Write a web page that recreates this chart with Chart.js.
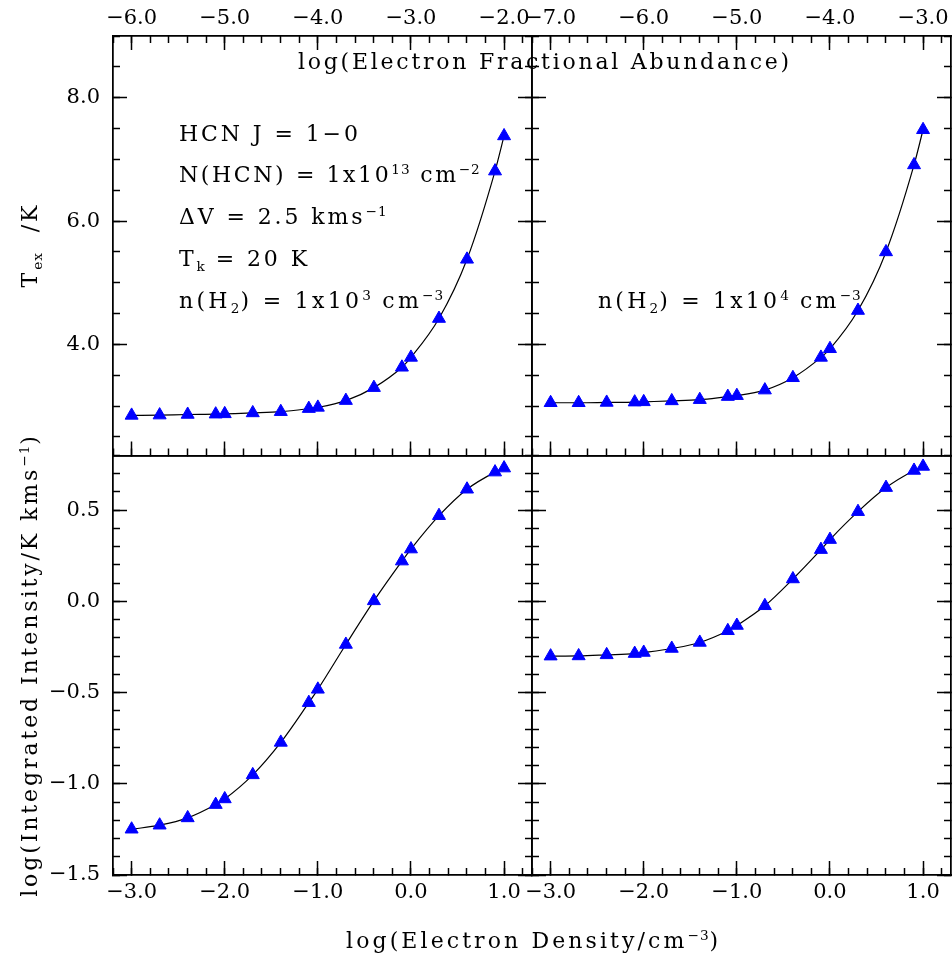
<!DOCTYPE html>
<html>
<head>
<meta charset="utf-8">
<script src="https://cdn.jsdelivr.net/npm/chart.js@4.4.1/dist/chart.umd.min.js"></script>
<style>
  html, body { margin: 0; padding: 0; background: #fff; }
  #wrap { position: relative; width: 952px; height: 959px; overflow: hidden; font-family: 'DejaVu Serif', serif; color: #000; }
  #wrap canvas { position: absolute; left: 0; top: 0; }
  .lbl { position: absolute; font-size: 22px; line-height: 1; white-space: nowrap; letter-spacing: 2.9px; }
  .lbl sup { font-size: 0.62em; vertical-align: 0.6em; line-height: 0; letter-spacing: 1px; }
  .lbl sub { font-size: 0.62em; vertical-align: -0.35em; line-height: 0; letter-spacing: 1px; }
  .rot { transform: translate(-50%, -50%) rotate(-90deg); }
</style>
</head>
<body>
<div id="wrap">
  <canvas id="tl" width="952" height="959"></canvas>
  <canvas id="tr" width="952" height="959"></canvas>
  <canvas id="bl" width="952" height="959"></canvas>
  <canvas id="br" width="952" height="959"></canvas>

  <div class="lbl" style="left:298px;top:51px;letter-spacing:2.75px">log(Electron Fractional Abundance)</div>

  <div class="lbl" style="left:179px;top:123px">HCN J = 1&minus;0</div>
  <div class="lbl" style="left:179px;top:164px;letter-spacing:2.6px">N(HCN) = 1x10<sup>13</sup> cm<sup>&minus;2</sup></div>
  <div class="lbl" style="left:179px;top:206px">&Delta;V = 2.5 kms<sup>&minus;1</sup></div>
  <div class="lbl" style="left:179px;top:248px">T<sub>k</sub> = 20 K</div>
  <div class="lbl" style="left:179px;top:290px;letter-spacing:3.3px">n(H<sub>2</sub>) = 1x10<sup>3</sup> cm<sup>&minus;3</sup></div>
  <div class="lbl" style="left:598px;top:290px;letter-spacing:3.2px">n(H<sub>2</sub>) = 1x10<sup>4</sup> cm<sup>&minus;3</sup></div>

  <div class="lbl rot" style="left:30px;top:245px">T<sub>ex</sub>&nbsp;&nbsp;/K</div>
  <div class="lbl rot" style="left:30px;top:665px">log(Integrated Intensity/K kms<sup>&minus;1</sup>)</div>
  <div class="lbl" style="left:346px;top:930px;letter-spacing:3.1px">log(Electron Density/cm<sup>&minus;3</sup>)</div>
</div>
<script>
// log10 of electron density (cm^-3): 1, 2, 4, 8 x 10^-3 ... 10
var logNe = [-3.0, -2.699, -2.398, -2.097, -2.0, -1.699, -1.398, -1.097, -1.0,
             -0.699, -0.398, -0.097, 0.0, 0.301, 0.602, 0.903, 1.0];

// excitation temperature (K), n(H2) = 1e3 and 1e4
var texN3 = [2.85, 2.855, 2.865, 2.87, 2.875, 2.89, 2.91, 2.96, 2.98,
             3.09, 3.30, 3.63, 3.79, 4.42, 5.38, 6.81, 7.38];
var texN4 = [3.055, 3.055, 3.06, 3.065, 3.07, 3.085, 3.105, 3.155, 3.17,
             3.26, 3.46, 3.79, 3.93, 4.55, 5.50, 6.91, 7.48];

// log integrated intensity (K km/s), n(H2) = 1e3 and 1e4
var intN3 = [-1.249, -1.227, -1.187, -1.114, -1.083, -0.951, -0.773, -0.555, -0.482,
             -0.236, 0.003, 0.221, 0.287, 0.470, 0.615, 0.709, 0.731];
var intN4 = [-0.300, -0.299, -0.293, -0.286, -0.280, -0.258, -0.225, -0.161, -0.132,
             -0.024, 0.123, 0.284, 0.339, 0.492, 0.624, 0.718, 0.740];

var xRange = [-3.2, 1.3];
var texRange = [2.2, 9.0];
var intRange = [-1.5, 0.8];

// panel edges in page pixels
var colX = [113, 532, 951];
var rowY = [36, 455.5, 875];
var W = 952, H = 959;

var tickFont = { family: 'DejaVu Serif', size: 21 };

function fmt(v) {
    if (Math.abs(v) < 1e-9) v = 0;
    return v.toFixed(1).replace('-', '\u2212');
}

// one axis with inward ticks; a labelled axis gets the whole margin as its box
function axis(pos, range, step, len, labelFn, size) {
    var horiz = (pos === 'top' || pos === 'bottom');
    return {
        type: 'linear',
        position: pos,
        weight: labelFn ? 1 : 0,
        min: range[0],
        max: range[1],
        afterFit: function (s) {
            if (horiz) s.height = labelFn ? size : 0;
            else s.width = labelFn ? size : 0;
            s.paddingLeft = s.paddingRight = s.paddingTop = s.paddingBottom = 0;
        },
        border: { display: true, color: '#000', width: 1.5 },
        grid: {
            display: true,
            drawOnChartArea: false,
            drawTicks: true,
            tickLength: -len,
            tickColor: '#000',
            tickWidth: 1.5
        },
        ticks: {
            display: !!labelFn,
            stepSize: step,
            maxTicksLimit: 100,
            includeBounds: false,
            autoSkip: false,
            maxRotation: 0,
            minRotation: 0,
            padding: horiz ? len + 5 : len + 13,
            color: '#000',
            font: tickFont,
            callback: labelFn || function () { return ''; }
        }
    };
}

function makePanel(id, col, row, ys, yRange, yMinor, yMajor, labels) {
    var left = colX[col], right = W - colX[col + 1];
    var top = rowY[row], bottom = H - rowY[row + 1];

    var scales = {
        xb: axis('bottom', xRange, 0.2, 7, null),
        xbm: axis('bottom', xRange, 1.0, 14, labels.bottom ? function (v) { return fmt(v); } : null, bottom),
        yl: axis('left', yRange, yMinor, 7, null),
        ylm: axis('left', yRange, yMajor, 14, labels.left ? function (v) { return fmt(v); } : null, left),
        yr: axis('right', yRange, yMinor, 7, null),
        yrm: axis('right', yRange, yMajor, 14, null)
    };
    if (labels.topShift) {
        scales.xt = axis('top', xRange, 0.2, 7, null);
        scales.xtm = axis('top', xRange, 1.0, 14, function (v) { return fmt(v - labels.topShift); }, top);
    } else {
        scales.xt = axis('top', xRange, 1.0, 0, null);
    }

    var points = logNe.map(function (x, i) { return { x: x, y: ys[i] }; });

    return new Chart(document.getElementById(id), {
        type: 'scatter',
        data: {
            datasets: [{
                data: points,
                xAxisID: 'xb',
                yAxisID: 'yl',
                showLine: true,
                fill: false,
                borderColor: '#000',
                borderWidth: 1.2,
                cubicInterpolationMode: 'monotone',
                pointStyle: 'triangle',
                pointRadius: 7.5,
                pointBackgroundColor: '#0000ff',
                pointBorderColor: '#0000ff',
                pointBorderWidth: 1
            }]
        },
        options: {
            responsive: false,
            animation: false,
            events: [],
            layout: {
                autoPadding: false,
                padding: {
                    left: labels.left ? 0 : left,
                    right: right,
                    top: labels.topShift ? 0 : top,
                    bottom: labels.bottom ? 0 : bottom
                }
            },
            plugins: { legend: { display: false }, tooltip: { enabled: false } },
            scales: scales
        }
    });
}

makePanel('tl', 0, 0, texN3, texRange, 0.5, 2.0, { left: true, topShift: 3 });
makePanel('tr', 1, 0, texN4, texRange, 0.5, 2.0, { left: false, topShift: 4 });
makePanel('bl', 0, 1, intN3, intRange, 0.1, 0.5, { left: true, bottom: true });
makePanel('br', 1, 1, intN4, intRange, 0.1, 0.5, { left: false, bottom: true });
</script>
</body>
</html>
